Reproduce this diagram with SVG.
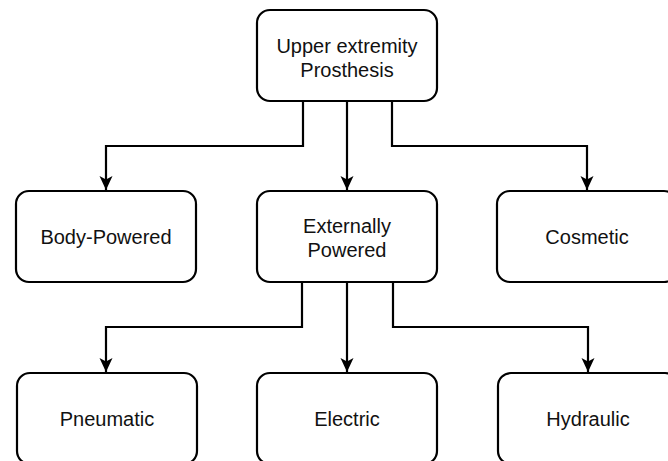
<svg xmlns="http://www.w3.org/2000/svg" width="668" height="461" viewBox="0 0 668 461">
<style>
.box{fill:#fff;stroke:#000;stroke-width:2.2}
.lbl{font-family:"Liberation Sans",Arial,sans-serif;font-size:20px;fill:#111;text-anchor:middle}
.edge{fill:none;stroke:#000;stroke-width:2.2;marker-end:url(#arr)}
</style>
<defs>
<marker id="arr" markerUnits="userSpaceOnUse" viewBox="0 0 14 14" refX="14" refY="7" markerWidth="14" markerHeight="14" orient="auto">
<path d="M0,0.5 L14,7 L0,13.5 L3.5,7 Z" fill="#000"/>
</marker>
</defs>
<rect width="668" height="461" fill="#fff"/>
<g id="connectors">
<path class="edge" d="M303,101 V146 H106 V190"/>
<path class="edge" d="M347,101 V190"/>
<path class="edge" d="M392,101 V146 H587 V190"/>
<path class="edge" d="M302,282 V327 H106 V372"/>
<path class="edge" d="M347,282 V372"/>
<path class="edge" d="M393,282 V327 H588 V372"/>
</g>
<g id="n-root"><rect class="box" x="257" y="10" width="180" height="91" rx="13"/><text class="lbl" x="347" y="53">Upper extremity</text><text class="lbl" x="347" y="77">Prosthesis</text></g>
<g id="n-body"><rect class="box" x="16" y="191" width="180" height="91" rx="13"/><text class="lbl" x="106" y="244">Body-Powered</text></g>
<g id="n-ext"><rect class="box" x="257" y="191" width="180" height="91" rx="13"/><text class="lbl" x="347" y="233">Externally</text><text class="lbl" x="347" y="257">Powered</text></g>
<g id="n-cos"><rect class="box" x="497" y="191" width="180" height="91" rx="13"/><text class="lbl" x="587" y="244">Cosmetic</text></g>
<g id="n-pneu"><rect class="box" x="17" y="373" width="180" height="91" rx="13"/><text class="lbl" x="107" y="426">Pneumatic</text></g>
<g id="n-elec"><rect class="box" x="257" y="373" width="180" height="91" rx="13"/><text class="lbl" x="347" y="426">Electric</text></g>
<g id="n-hyd"><rect class="box" x="498" y="373" width="180" height="91" rx="13"/><text class="lbl" x="588" y="426">Hydraulic</text></g>
</svg>
